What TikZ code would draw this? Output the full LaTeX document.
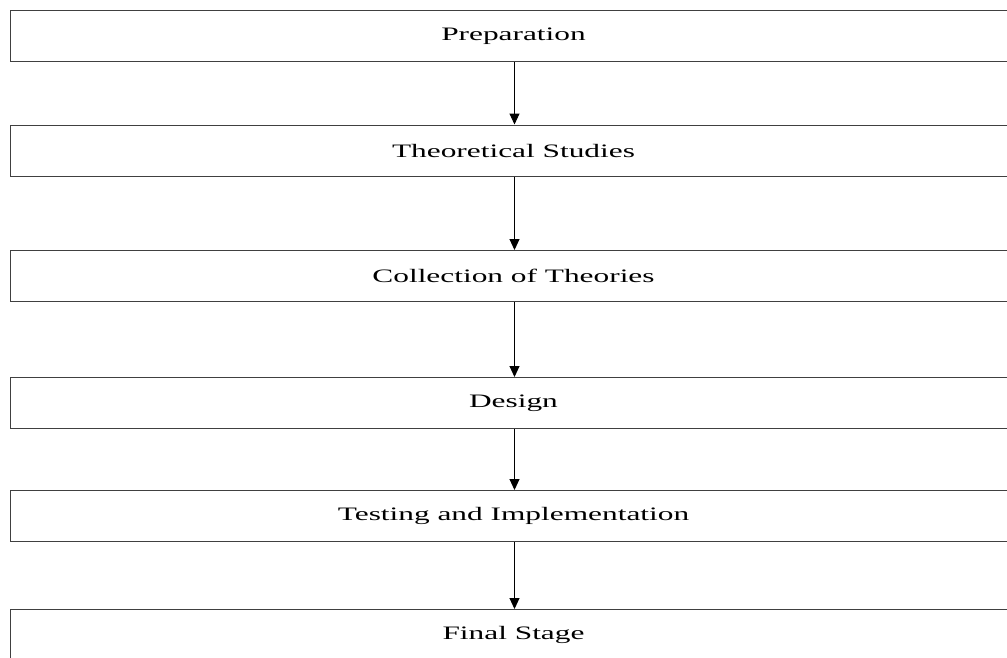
\documentclass[tikz,border=0pt]{standalone}
\usepackage{fontspec}
\setmainfont{Liberation Serif}
\usepackage{graphicx}
\usetikzlibrary{arrows.meta}
\begin{document}
\begin{tikzpicture}[x=1pt,y=-1pt,
  stagebox/.style={draw=black!75,line width=1pt,rectangle,minimum width=1006pt,minimum height=51pt,inner sep=0pt,anchor=north west,
    font=\fontsize{19}{22}\selectfont},
  flowarrow/.style={draw=black,line width=1pt,-{Triangle[width=10pt,length=11pt]}}]
\useasboundingbox (0,0) rectangle (1007,657);
\clip (0,0) rectangle (1007,657);
\node[stagebox] (s1) at (10,10) {\scalebox{1.65}[1]{Preparation}};
\node[stagebox] (s2) at (10,124.5) {\scalebox{1.65}[1]{Theoretical Studies}};
\node[stagebox] (s3) at (10,250) {\scalebox{1.65}[1]{Collection of Theories}};
\node[stagebox] (s4) at (10,377) {\scalebox{1.65}[1]{Design}};
\node[stagebox] (s5) at (10,490) {\scalebox{1.65}[1]{Testing and Implementation}};
\node[stagebox] (s6) at (10,609) {\scalebox{1.65}[1]{Final Stage}};
\path (s1.south) ++(1,0) coordinate (a1);
\draw[flowarrow] (a1) -- (a1 |- s2.north);
\path (s2.south) ++(1,0) coordinate (a2);
\draw[flowarrow] (a2) -- (a2 |- s3.north);
\path (s3.south) ++(1,0) coordinate (a3);
\draw[flowarrow] (a3) -- (a3 |- s4.north);
\path (s4.south) ++(1,0) coordinate (a4);
\draw[flowarrow] (a4) -- (a4 |- s5.north);
\path (s5.south) ++(1,0) coordinate (a5);
\draw[flowarrow] (a5) -- (a5 |- s6.north);
\end{tikzpicture}
\end{document}
